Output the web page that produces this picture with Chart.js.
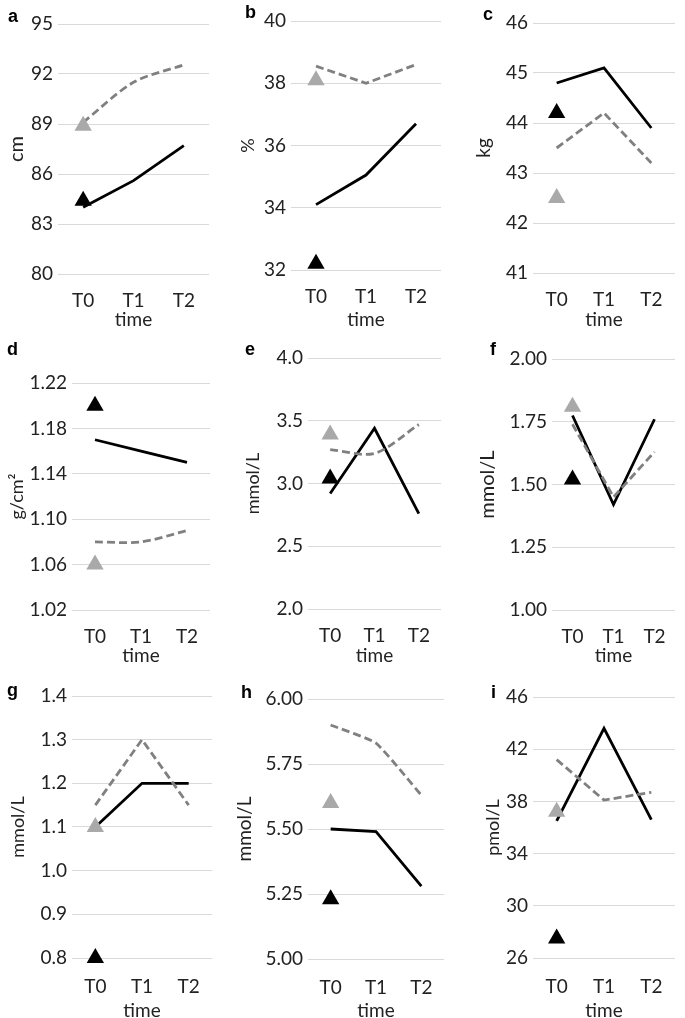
<!DOCTYPE html>
<html>
<head>
<meta charset="utf-8">
<script src="https://cdn.jsdelivr.net/npm/chart.js@4.4.1/dist/chart.umd.min.js"></script>
<style>
  html, body { margin: 0; padding: 0; background: #fff; width: 685px; height: 1018px; overflow: hidden; }
  .panel { position: absolute; }
  .letter { position: absolute; font-family: "Liberation Sans", Arial, sans-serif; font-weight: bold; font-size: 18px; line-height: 18px; color: #000; }
</style>
</head>
<body>
<script>
// ---------------- DATA ----------------
const categories = ['T0', 'T1', 'T2'];
const panelLetters = ['a', 'b', 'c', 'd', 'e', 'f', 'g', 'h', 'i'];
const yTitles = ['cm', '%', 'kg', 'g/cm²', 'mmol/L', 'mmol/L', 'mmol/L', 'mmol/L', 'pmol/L'];
const xTitle = 'time';

const yTicks_a = [80, 83, 86, 89, 92, 95];
const yTicks_b = [32, 34, 36, 38, 40];
const yTicks_c = [41, 42, 43, 44, 45, 46];
const yTicks_d = [1.02, 1.06, 1.10, 1.14, 1.18, 1.22];
const yTicks_e = [2.0, 2.5, 3.0, 3.5, 4.0];
const yTicks_f = [1.00, 1.25, 1.50, 1.75, 2.00];
const yTicks_g = [0.8, 0.9, 1.0, 1.1, 1.2, 1.3, 1.4];
const yTicks_h = [5.00, 5.25, 5.50, 5.75, 6.00];
const yTicks_i = [26, 30, 34, 38, 42, 46];
const yTicks = [yTicks_a, yTicks_b, yTicks_c, yTicks_d, yTicks_e, yTicks_f, yTicks_g, yTicks_h, yTicks_i];
const tickDecimals = [0, 0, 0, 2, 1, 2, 1, 2, 0];

// solid black line (T0, T1, T2)
const blackLine_a = [84.0, 85.6, 87.7];
const blackLine_b = [34.1, 35.05, 36.7];
const blackLine_c = [44.8, 45.1, 43.9];
const blackLine_d = [1.17, 1.16, 1.15];
const blackLine_e = [2.92, 3.44, 2.76];
const blackLine_f = [1.775, 1.42, 1.76];
const blackLine_g = [1.1, 1.2, 1.2];
const blackLine_h = [5.50, 5.49, 5.28];
const blackLine_i = [36.5, 43.6, 36.6];
const blackLine = [blackLine_a, blackLine_b, blackLine_c, blackLine_d, blackLine_e, blackLine_f, blackLine_g, blackLine_h, blackLine_i];

// dashed grey line (T0, T1, T2)
const greyLine_a = [89.1, 91.5, 92.55];
const greyLine_b = [38.55, 38.0, 38.6];
const greyLine_c = [43.5, 44.2, 43.2];
const greyLine_d = [1.08, 1.08, 1.09];
const greyLine_e = [3.27, 3.24, 3.47];
const greyLine_f = [1.74, 1.45, 1.63];
const greyLine_g = [1.15, 1.3, 1.15];
const greyLine_h = [5.90, 5.83, 5.63];
const greyLine_i = [41.2, 38.1, 38.7];
const greyLine = [greyLine_a, greyLine_b, greyLine_c, greyLine_d, greyLine_e, greyLine_f, greyLine_g, greyLine_h, greyLine_i];

// single triangle markers at T0
const blackTriangle = [84.4, 32.2, 44.2, 1.20, 3.04, 1.52, 0.80, 5.23, 27.5];
const greyTriangle = [88.9, 38.1, 42.5, 1.06, 3.39, 1.81, 1.10, 5.60, 37.2];

// ---------------- LAYOUT / STYLE (positions only) ----------------
const rows = [
  { top: 0,   h: 335, tickPad: 15, titlePad: 3.6 },
  { top: 335, h: 340, tickPad: 15.5, titlePad: 8.1 },
  { top: 675, h: 360, tickPad: 17, titlePad: 13.1 }
];
const cols = [ { left: 0, w: 228 }, { left: 228, w: 227 }, { left: 455, w: 230 } ];
// plot rect relative to canvas: [left, top, right, bottom]
const plotRects = [
  [58, 24, 209, 274], [63, 21, 213, 270], [78, 23, 224, 273],
  [72, 48, 210, 275], [80, 23, 213, 274], [97, 24, 222, 275],
  [72, 21, 212, 283], [80, 24, 216, 284], [78, 22, 220, 283]
];
const yTitleCenters = [17, 20, 29, 17, 25, 33, 18, 17, 38];
const yTitleSizes = [20, 18, 19, 18, 18, 20, 18, 19, 18];
const greyTension = [0.3, 0, 0, 0.3, 0.3, 0, 0, 0.15, 0];
const letterPos = [[8, 7], [245, 3], [483, 5], [7, 340], [245, 340], [490, 340], [7, 681], [241, 683], [491, 683]];

const FONT = 'Lato, "Open Sans", sans-serif';
const TEXT = '#222222';
const TICK_SIZE = 19;

for (let p = 0; p < 9; p++) {
  const row = rows[Math.floor(p / 3)];
  const col = cols[p % 3];
  const [pl, pt, pr, pb] = plotRects[p];

  const wrap = document.createElement('div');
  wrap.className = 'panel';
  wrap.style.left = col.left + 'px';
  wrap.style.top = row.top + 'px';
  wrap.style.width = col.w + 'px';
  wrap.style.height = row.h + 'px';
  const cv = document.createElement('canvas');
  cv.width = col.w; cv.height = row.h;
  cv.style.width = col.w + 'px'; cv.style.height = row.h + 'px';
  wrap.appendChild(cv);
  document.body.appendChild(wrap);

  const lt = document.createElement('div');
  lt.className = 'letter';
  lt.textContent = panelLetters[p];
  lt.style.left = letterPos[p][0] + 'px';
  lt.style.top = letterPos[p][1] + 'px';
  document.body.appendChild(lt);

  const ticks = yTicks[p];
  const dec = tickDecimals[p];
  const ts = yTitleSizes[p];

  new Chart(cv, {
    type: 'line',
    data: {
      labels: categories,
      datasets: [
        {
          data: [blackTriangle[p], null, null],
          showLine: false, pointStyle: 'triangle', pointRadius: 10, clip: false,
          pointBackgroundColor: '#000000', pointBorderColor: '#000000', pointBorderWidth: 0,
          order: 0
        },
        {
          data: [greyTriangle[p], null, null],
          showLine: false, pointStyle: 'triangle', pointRadius: 10, clip: false,
          pointBackgroundColor: '#a9a9a9', pointBorderColor: '#a9a9a9', pointBorderWidth: 0,
          order: 0
        },
        {
          data: blackLine[p], borderColor: '#000000', borderWidth: 2.8,
          pointRadius: 0, tension: 0, order: 2
        },
        {
          data: greyLine[p], borderColor: '#808080', borderWidth: 2.8, borderDash: [8, 4],
          pointRadius: 0, tension: greyTension[p], order: 1
        }
      ]
    },
    options: {
      responsive: false,
      animation: false,
      events: [],
      layout: { padding: { left: 0, top: pt, right: col.w - pr, bottom: 0 } },
      plugins: { legend: { display: false }, tooltip: { enabled: false } },
      scales: {
        x: {
          offset: true,
          grid: { display: false, drawTicks: false },
          border: { display: false },
          ticks: { color: TEXT, font: { family: FONT, size: TICK_SIZE }, padding: row.tickPad, maxRotation: 0 },
          title: { display: true, text: xTitle, color: TEXT, font: { family: FONT, size: 19 }, padding: { top: 0, bottom: row.titlePad } },
          afterFit: (s) => { s.height = row.h - pb; }
        },
        y: {
          min: ticks[0], max: ticks[ticks.length - 1],
          grid: { color: '#d9d9d9', lineWidth: 1, drawTicks: false },
          border: { display: false },
          ticks: { color: TEXT, font: { family: FONT, size: TICK_SIZE }, padding: 5, callback: (v) => Number(v).toFixed(dec) },
          afterBuildTicks: (s) => { s.ticks = ticks.map(v => ({ value: v })); },
          title: { display: true, text: yTitles[p], color: TEXT, font: { family: FONT, size: ts }, padding: { top: yTitleCenters[p] - ts * 0.6, bottom: 0 } },
          afterFit: (s) => { s.width = pl; }
        }
      }
    }
  });
}
</script>
</body>
</html>
